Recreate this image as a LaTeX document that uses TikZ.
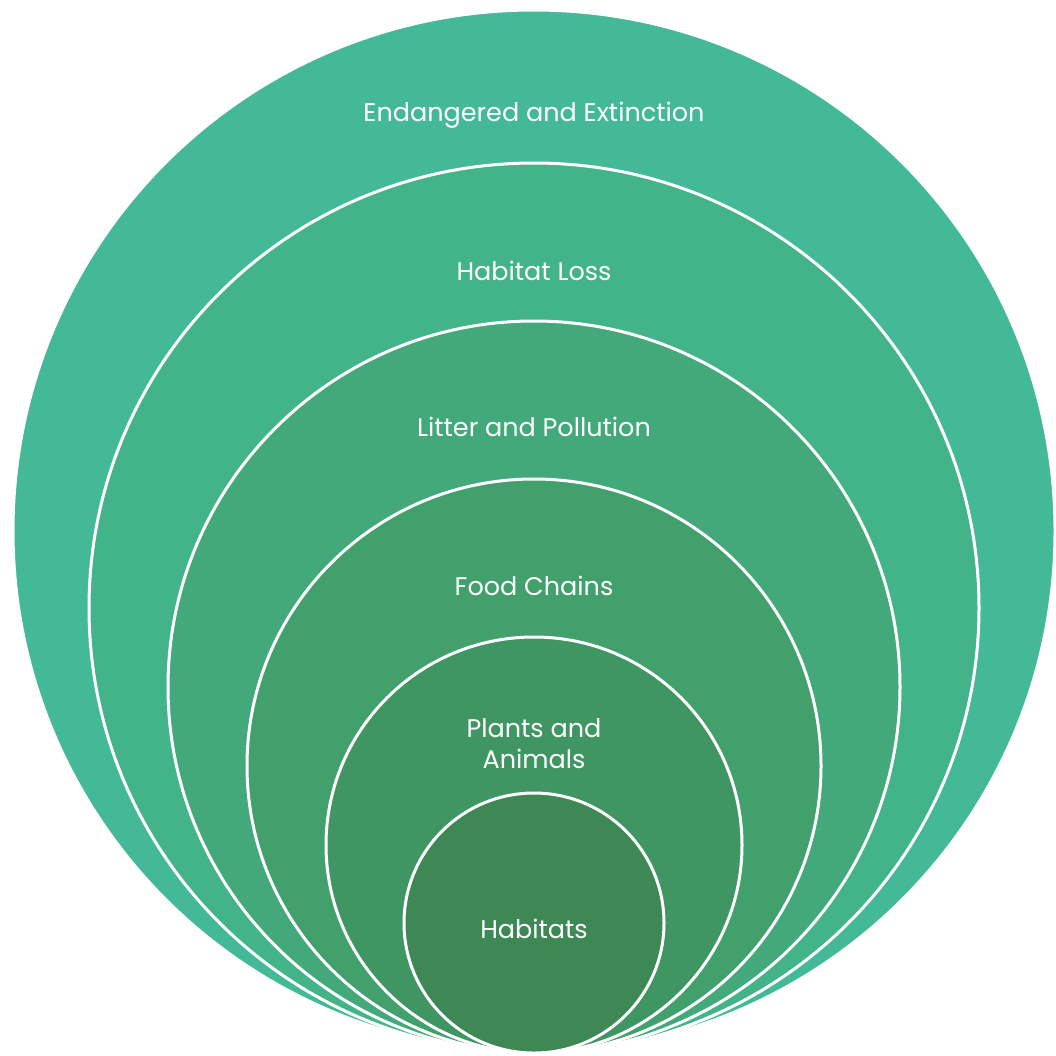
\documentclass[tikz,border=0pt]{standalone}
\usepackage{fontspec}
\setmainfont{Poppins}
\definecolor{c1}{HTML}{44B998}
\definecolor{c2}{HTML}{43B38A}
\definecolor{c3}{HTML}{43A97A}
\definecolor{c4}{HTML}{41A06C}
\definecolor{c5}{HTML}{3F9662}
\definecolor{c6}{HTML}{3D8855}
\begin{document}
\begin{tikzpicture}[x=1pt,y=-1pt,
  ring/.style={circle,draw=white,line width=3pt,inner sep=0pt},
  lbl/.style={text=white,font=\fontsize{25.5}{31}\selectfont,align=center}]
\useasboundingbox (0,0) rectangle (1056,1055);
\node[ring,fill=c1,minimum size=1042pt] (r1) at (534,531) {};
\node[ring,fill=c2,minimum size=890pt] (r2) at (534,608) {};
\node[ring,fill=c3,minimum size=732pt] (r3) at (534,687) {};
\node[ring,fill=c4,minimum size=574pt] (r4) at (534,766) {};
\node[ring,fill=c5,minimum size=416pt] (r5) at (534,845) {};
\node[ring,fill=c6,minimum size=260pt] (r6) at (534,923) {};
\node[lbl] (t1) at (534,115) {Endangered and Extinction};
\node[lbl] (t2) at (534,271) {Habitat Loss};
\node[lbl] (t3) at (534,427) {Litter and Pollution};
\node[lbl] (t4) at (534,586) {Food Chains};
\node[lbl] (t5) at (534,744) {Plants and\\Animals};
\node[lbl] (t6) at (534,929) {Habitats};
\end{tikzpicture}
\end{document}
